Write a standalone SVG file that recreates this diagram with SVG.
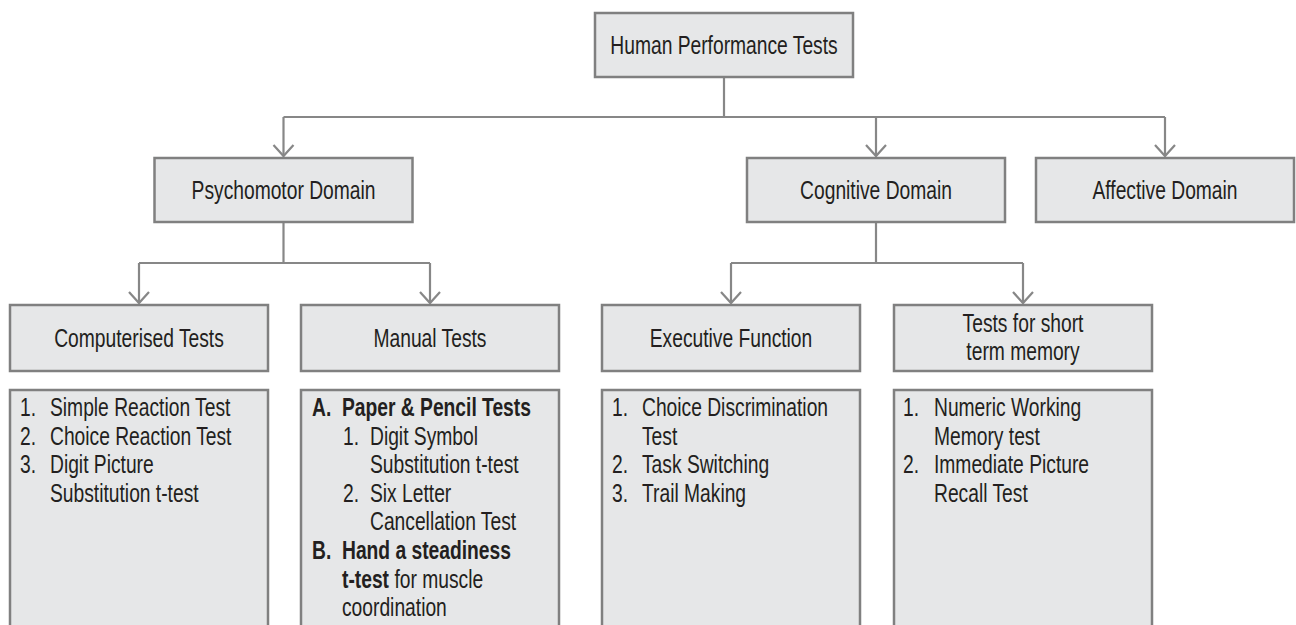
<svg xmlns="http://www.w3.org/2000/svg" width="1296" height="625" viewBox="0 0 1296 625">
<style>
.box{fill:#e6e7e8;stroke:#808080;stroke-width:2.5}
.conn{fill:none;stroke:#878787;stroke-width:2.2}
.t{font-family:"Liberation Sans",Arial,Helvetica,sans-serif;font-size:25px;fill:#231f20}
.c{text-anchor:middle}
.b{font-weight:bold}
</style>
<defs>
<marker id="ah" markerUnits="userSpaceOnUse" markerWidth="26" markerHeight="26" viewBox="-13 -13 26 26" refX="0" refY="0" orient="auto">
<path d="M-11,-10 L0,0 L-11,10" fill="none" stroke="#878787" stroke-width="2.2"/>
</marker>
</defs>
<rect width="1296" height="625" fill="#ffffff"/>
<g id="connectors">
<path class="conn" d="M724,78 V117"/>
<path class="conn" d="M283.5,117 H1165"/>
<path class="conn" d="M283.5,117 V156" marker-end="url(#ah)"/>
<path class="conn" d="M876,117 V156" marker-end="url(#ah)"/>
<path class="conn" d="M1165,117 V156" marker-end="url(#ah)"/>
<path class="conn" d="M283.5,222 V263"/>
<path class="conn" d="M139,263 H430"/>
<path class="conn" d="M139,263 V303" marker-end="url(#ah)"/>
<path class="conn" d="M430,263 V303" marker-end="url(#ah)"/>
<path class="conn" d="M876,222 V263"/>
<path class="conn" d="M731,263 H1023"/>
<path class="conn" d="M731,263 V303" marker-end="url(#ah)"/>
<path class="conn" d="M1023,263 V303" marker-end="url(#ah)"/>
</g>
<g id="human-performance-tests">
<rect class="box" x="595" y="13" width="258" height="64"/>
<text class="t c" transform="translate(724,54) scale(0.77,1)">Human Performance Tests</text>
</g>
<g id="psychomotor-domain">
<rect class="box" x="154.5" y="158" width="258" height="64"/>
<text class="t c" transform="translate(283.5,199) scale(0.77,1)">Psychomotor Domain</text>
</g>
<g id="cognitive-domain">
<rect class="box" x="747" y="158" width="258" height="64"/>
<text class="t c" transform="translate(876,199) scale(0.77,1)">Cognitive Domain</text>
</g>
<g id="affective-domain">
<rect class="box" x="1036" y="158" width="258" height="64"/>
<text class="t c" transform="translate(1165,199) scale(0.77,1)">Affective Domain</text>
</g>
<g id="computerised-tests">
<rect class="box" x="10" y="305" width="258" height="66"/>
<text class="t c" transform="translate(139,347) scale(0.77,1)">Computerised Tests</text>
</g>
<g id="manual-tests">
<rect class="box" x="301" y="305" width="258" height="66"/>
<text class="t c" transform="translate(430,347) scale(0.77,1)">Manual Tests</text>
</g>
<g id="executive-function">
<rect class="box" x="602" y="305" width="258" height="66"/>
<text class="t c" transform="translate(731,347) scale(0.77,1)">Executive Function</text>
</g>
<g id="short-term-memory">
<rect class="box" x="894" y="305" width="258" height="66"/>
<text class="t c" transform="translate(1023,332) scale(0.77,1)">Tests for short</text>
<text class="t c" transform="translate(1023,360) scale(0.77,1)">term memory</text>
</g>
<g id="computerised-list">
<rect class="box" x="10" y="390" width="258" height="260"/>
<text class="t" transform="translate(20,416) scale(0.77,1)">1.</text>
<text class="t" transform="translate(50,416) scale(0.77,1)">Simple Reaction Test</text>
<text class="t" transform="translate(20,444.6) scale(0.77,1)">2.</text>
<text class="t" transform="translate(50,444.6) scale(0.77,1)">Choice Reaction Test</text>
<text class="t" transform="translate(20,473.2) scale(0.77,1)">3.</text>
<text class="t" transform="translate(50,473.2) scale(0.77,1)">Digit Picture</text>
<text class="t" transform="translate(50,501.8) scale(0.77,1)">Substitution t-test</text>
</g>
<g id="manual-list">
<rect class="box" x="301" y="390" width="258" height="260"/>
<text class="t b" transform="translate(312,416) scale(0.77,1)">A.</text>
<text class="t b" transform="translate(342,416) scale(0.77,1)">Paper &amp; Pencil Tests</text>
<text class="t" transform="translate(343,444.6) scale(0.77,1)">1.</text>
<text class="t" transform="translate(370,444.6) scale(0.77,1)">Digit Symbol</text>
<text class="t" transform="translate(370,473.2) scale(0.77,1)">Substitution t-test</text>
<text class="t" transform="translate(343,501.8) scale(0.77,1)">2.</text>
<text class="t" transform="translate(370,501.8) scale(0.77,1)">Six Letter</text>
<text class="t" transform="translate(370,530.4) scale(0.77,1)">Cancellation Test</text>
<text class="t b" transform="translate(312,559) scale(0.77,1)">B.</text>
<text class="t b" transform="translate(342,559) scale(0.77,1)">Hand a steadiness</text>
<text class="t" transform="translate(342,587.6) scale(0.77,1)"><tspan class="b">t-test</tspan> for muscle</text>
<text class="t" transform="translate(342,616.2) scale(0.77,1)">coordination</text>
</g>
<g id="executive-list">
<rect class="box" x="602" y="390" width="258" height="260"/>
<text class="t" transform="translate(612,416) scale(0.77,1)">1.</text>
<text class="t" transform="translate(642,416) scale(0.77,1)">Choice Discrimination</text>
<text class="t" transform="translate(642,444.6) scale(0.77,1)">Test</text>
<text class="t" transform="translate(612,473.2) scale(0.77,1)">2.</text>
<text class="t" transform="translate(642,473.2) scale(0.77,1)">Task Switching</text>
<text class="t" transform="translate(612,501.8) scale(0.77,1)">3.</text>
<text class="t" transform="translate(642,501.8) scale(0.77,1)">Trail Making</text>
</g>
<g id="memory-list">
<rect class="box" x="894" y="390" width="258" height="260"/>
<text class="t" transform="translate(903,416) scale(0.77,1)">1.</text>
<text class="t" transform="translate(934,416) scale(0.77,1)">Numeric Working</text>
<text class="t" transform="translate(934,444.6) scale(0.77,1)">Memory test</text>
<text class="t" transform="translate(903,473.2) scale(0.77,1)">2.</text>
<text class="t" transform="translate(934,473.2) scale(0.77,1)">Immediate Picture</text>
<text class="t" transform="translate(934,501.8) scale(0.77,1)">Recall Test</text>
</g>
</svg>
